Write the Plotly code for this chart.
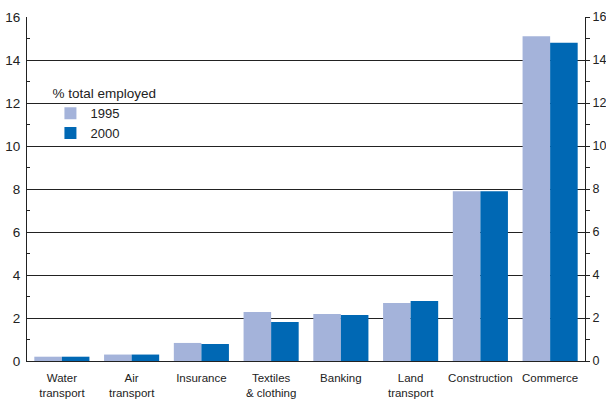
import plotly.graph_objects as go

categories = ["Water<br>transport", "Air<br>transport", "Insurance", "Textiles<br>& clothing",
              "Banking", "Land<br>transport", "Construction", "Commerce"]
values_1995 = [0.2, 0.3, 0.84, 2.28, 2.19, 2.7, 7.9, 15.1]
values_2000 = [0.2, 0.3, 0.79, 1.81, 2.14, 2.79, 7.9, 14.8]
y_ticks = [0, 2, 4, 6, 8, 10, 12, 14, 16]

FONT = "Liberation Sans Narrow, Arial Narrow, Liberation Sans, Arial, sans-serif"

fig = go.Figure()
fig.add_trace(go.Bar(x=categories, y=values_1995, name="1995", marker_color="#A4B3DA",
                     marker_line_width=0))
fig.add_trace(go.Bar(x=categories, y=values_2000, name="2000", marker_color="#0068B4",
                     marker_line_width=0))
# invisible trace to drive right axis
fig.add_trace(go.Scatter(x=categories, y=values_2000, yaxis="y2", mode="markers",
                         marker_opacity=0, showlegend=False, hoverinfo="skip"))

fig.update_layout(
    width=606, height=403,
    margin=dict(l=27, r=21, t=17, b=42, autoexpand=False),
    plot_bgcolor="white", paper_bgcolor="white",
    barmode="group", bargap=0.21, bargroupgap=0,
    font=dict(family=FONT, size=13, color="#222"),
    xaxis=dict(showgrid=False, showline=True, linecolor="#222", linewidth=1,
               ticks="", tickfont=dict(size=11.5), tickangle=0, automargin=False,
               ticklabelstandoff=6),
    yaxis=dict(range=[0, 16], tickvals=y_ticks, showgrid=True, gridcolor="#222",
               gridwidth=1, showline=True, linecolor="#222", linewidth=1,
               ticks="inside", ticklen=3, tickcolor="#222", zeroline=False,
               automargin=False, ticklabelstandoff=3,
               minor=dict(dtick=1, ticks="inside", ticklen=3, tickcolor="#222", showgrid=False),
               tickfont=dict(size=13.5)),
    yaxis2=dict(range=[0, 16], tickvals=y_ticks, overlaying="y", side="right",
                showgrid=False, showline=True, linecolor="#222", linewidth=1,
                ticks="outside", ticklen=4, tickcolor="#222", zeroline=False,
                automargin=False, ticklabelstandoff=0,
                minor=dict(dtick=1, ticks="outside", ticklen=4, tickcolor="#222"),
                tickfont=dict(size=12.5)),
    legend=dict(x=0.042, y=0.815, xanchor="left", yanchor="top",
                title=dict(text="% total employed", side="top", font=dict(size=13.5)),
                font=dict(size=13), bgcolor="rgba(0,0,0,0)", tracegroupgap=0,
                itemwidth=30),
    showlegend=True,
)

# remove the browser's default 8px body margin so the figure fills the window exactly
fig.write_html("out.html", config={"displayModeBar": False},
               post_script="document.body.style.margin='0';document.body.style.padding='0';")
